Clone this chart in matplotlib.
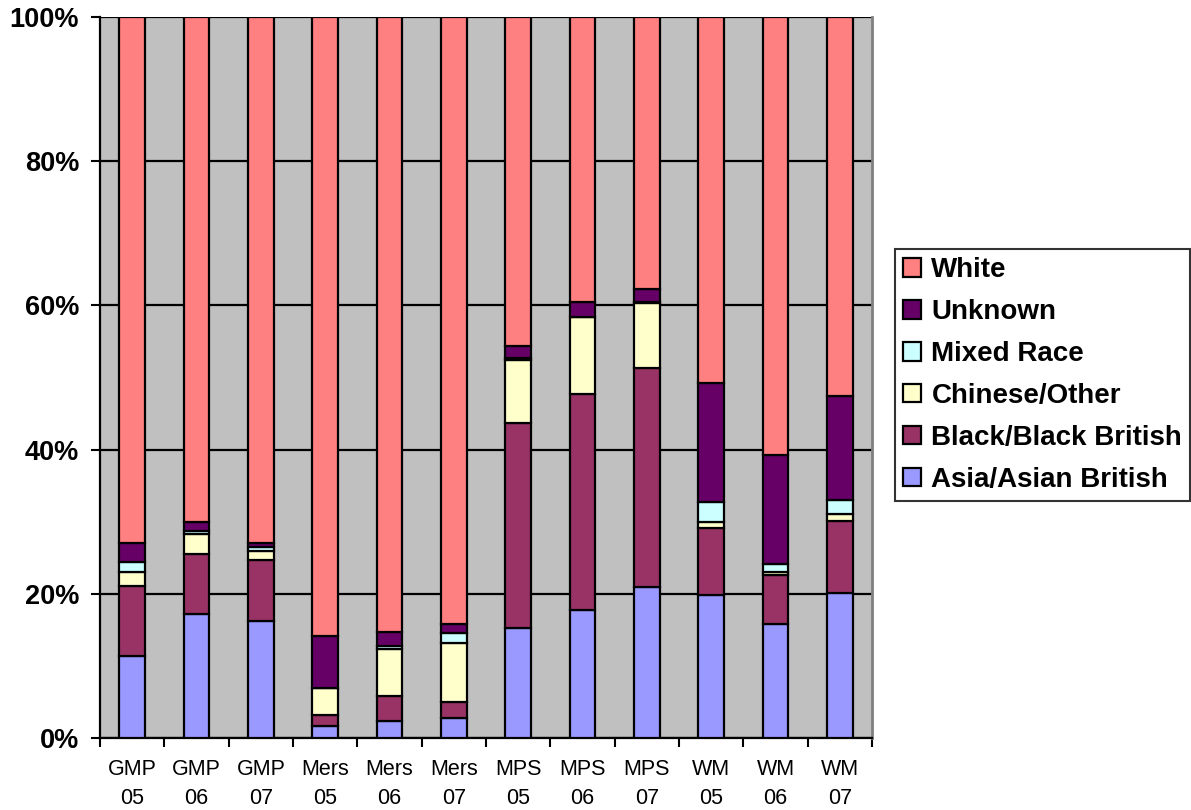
import numpy as np
import matplotlib.pyplot as plt
from matplotlib.ticker import FuncFormatter

# categories (force / year)
forces = ['GMP\n05', 'GMP\n06', 'GMP\n07', 'Mers\n05', 'Mers\n06', 'Mers\n07',
          'MPS\n05', 'MPS\n06', 'MPS\n07', 'WM\n05', 'WM\n06', 'WM\n07']

# percentages, bottom to top
asian   = [11.4, 17.2, 16.2, 1.7, 2.3, 2.8, 15.2, 17.8, 20.9, 19.8, 15.8, 20.1]
black   = [9.7, 8.3, 8.4, 1.5, 3.5, 2.2, 28.5, 30.0, 30.4, 9.3, 6.8, 10.0]
chinese = [1.9, 2.8, 1.3, 3.8, 6.5, 8.2, 8.7, 10.6, 9.1, 0.9, 0.4, 1.0]
mixed   = [1.4, 0.4, 0.5, 0.0, 0.5, 1.4, 0.3, 0.1, 0.1, 2.8, 1.2, 1.9]
unknown = [2.7, 1.3, 0.6, 7.1, 1.9, 1.2, 1.6, 2.0, 1.9, 16.4, 15.0, 14.4]
white   = [72.9, 70.0, 72.7, 85.9, 85.3, 84.2, 45.7, 39.6, 37.7, 50.8, 60.8, 52.6]

series = [
    ('Asia/Asian British', asian, '#9999FF'),
    ('Black/Black British', black, '#993366'),
    ('Chinese/Other', chinese, '#FFFFCC'),
    ('Mixed Race', mixed, '#CCFFFF'),
    ('Unknown', unknown, '#660066'),
    ('White', white, '#FF8080'),
]

plt.rcParams['font.family'] = ['Liberation Sans', 'DejaVu Sans']

fig = plt.figure(figsize=(11.91, 8.10), dpi=100)
ax = fig.add_axes([100 / 1191, 1 - 738 / 810, 772 / 1191, 721 / 810])
ax.set_facecolor('#C0C0C0')

x = np.arange(len(forces))
totals = np.array(asian) + black + chinese + mixed + unknown + white
bottom = np.zeros(len(forces))
handles = []
for name, vals, col in series:
    pct = np.array(vals) / totals * 100
    b = ax.bar(x, pct, 0.4, bottom=bottom, color=col, edgecolor='black',
               linewidth=1.6, label=name, zorder=3)
    bottom += pct
    handles.append(b)

ax.set_xlim(-0.5, len(forces) - 0.5)
ax.set_ylim(0, 100)
ax.set_yticks([0, 20, 40, 60, 80, 100])
ax.yaxis.set_major_formatter(FuncFormatter(lambda v, p: f'{int(v)}%'))
for lbl in ax.get_yticklabels():
    lbl.set_fontweight('bold')
ax.tick_params(axis='y', labelsize=19.5, length=6.5, width=1.5, direction='out', pad=8.5)
ax.grid(axis='y', color='black', linewidth=1.6, zorder=1)

# x ticks at category boundaries, labels centred on bars
ax.set_xticks(np.arange(len(forces) + 1) - 0.5)
ax.set_xticklabels([])
ax.set_xticks(x, minor=True)
ax.set_xticklabels(forces, minor=True, fontsize=15.5, linespacing=1.5)
ax.tick_params(axis='x', which='major', length=6.5, width=1.5, direction='out')
ax.tick_params(axis='x', which='minor', length=0, pad=15)

ax.spines['left'].set_linewidth(1.6)
ax.spines['bottom'].set_linewidth(1.6)
ax.spines['right'].set_color('#808080')
ax.spines['right'].set_linewidth(2)
ax.spines['top'].set_visible(False)

leg = fig.legend(handles[::-1], [s[0] for s in series][::-1],
                 loc='center left', bbox_to_anchor=(895 / 1191, 1 - 375 / 810),
                 prop={'weight': 'bold', 'size': 20},
                 frameon=True, fancybox=False, edgecolor='black',
                 handlelength=0.65, handleheight=0.65, handletextpad=0.36,
                 labelspacing=0.57, borderpad=0.3, borderaxespad=0)
leg.get_frame().set_linewidth(1.5)

fig.savefig('out.png', dpi=100)
